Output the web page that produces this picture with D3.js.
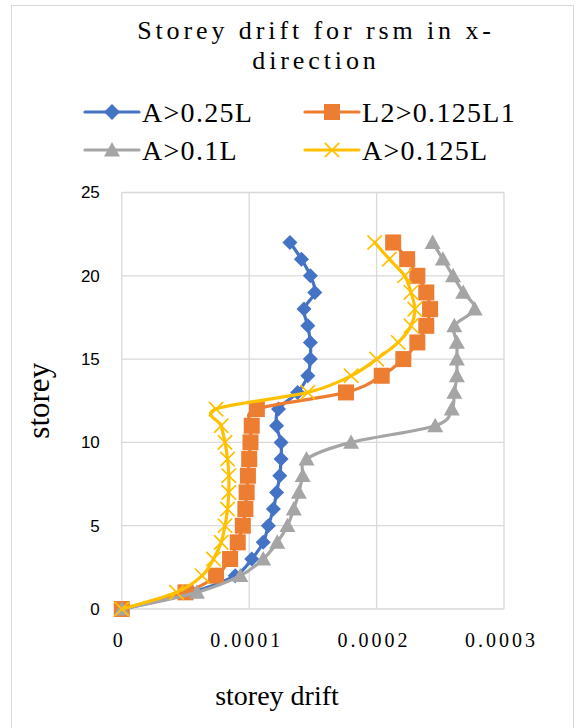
<!DOCTYPE html>
<html>
<head>
<meta charset="utf-8">
<script src="https://cdn.jsdelivr.net/npm/d3@7"></script>
<style>
  html, body { margin: 0; padding: 0; background: #fff; }
  svg { display: block; }
</style>
</head>
<body>
<svg id="chart" width="579" height="728"></svg>
<script>
// Storey numbers (y) and inter-storey drift per model (x)
const storeys = [0,1,2,3,4,5,6,7,8,9,10,11,12,13,14,15,16,17,18,19,20,21,22];

const driftA025L = [0, 0.000055, 0.000089, 0.000102, 0.000111, 0.000115, 0.000119, 0.0001215, 0.000124, 0.000125, 0.000125, 0.0001215,
  0.000123, 0.000138, 0.000146, 0.000148, 0.000148, 0.000146, 0.000143, 0.0001515, 0.000148, 0.000141, 0.000132];
const driftL2 = [0, 0.00005, 0.000074, 0.000085, 0.000091, 0.000095, 0.000097, 0.000098, 0.000099, 0.0001, 0.000101, 0.000102,
  0.000106, 0.000176, 0.000204, 0.000221, 0.000232, 0.000239, 0.000242, 0.000239, 0.000232, 0.000224, 0.000213];
const driftA01L = [0, 0.000059, 0.000093, 0.000111, 0.000122, 0.00013, 0.000135, 0.000139, 0.000142, 0.000145, 0.00018, 0.000246,
  0.000259, 0.000261, 0.000263, 0.000263, 0.000263, 0.000261, 0.000277, 0.000268, 0.00026, 0.000252, 0.000244];
const driftA0125L = [0, 0.000043, 0.000063, 0.000072, 0.000078, 0.000081, 0.000083, 0.000084, 0.000084, 0.000083, 0.000081, 0.000078,
  0.000074, 0.000146, 0.00018, 0.0002, 0.000217, 0.000227, 0.00023, 0.000227, 0.000222, 0.00021, 0.0001985];

const seriesNames = ["A>0.25L", "L2>0.125L1", "A>0.1L", "A>0.125L"];
const seriesColors = ["#4472C4", "#ED7D31", "#A5A5A5", "#FFC000"];
const seriesMarkers = ["diamond", "square", "triangle", "cross"];

const xTicks = [0, 0.0001, 0.0002, 0.0003];
const xTickLabels = ["0", "0.0001", "0.0002", "0.0003"];
const yTicks = [0, 5, 10, 15, 20, 25];

const titleLines = ["Storey drift for rsm in x-", "direction"];
const xTitle = "storey drift";
const yTitle = "storey";

const seriesValues = [driftA025L, driftL2, driftA01L, driftA0125L];
const series = seriesNames.map((name, i) => ({
  name, color: seriesColors[i], marker: seriesMarkers[i],
  points: storeys.map((s, j) => ({ x: seriesValues[i][j], y: s }))
}));

const svg = d3.select("#chart");
const serif = "'Liberation Serif', 'Times New Roman', serif";
const sans = "'Liberation Sans', Arial, sans-serif";

// Outer chart frame
svg.append("rect")
  .attr("x", 11.5).attr("y", 5.5).attr("width", 562).attr("height", 740)
  .attr("fill", "#fff").attr("stroke", "#d9d9d9").attr("stroke-width", 1);

// Title
const title = svg.append("text")
  .attr("text-anchor", "middle")
  .attr("font-family", serif).attr("font-size", 26).attr("letter-spacing", 3.9)
  .attr("fill", "#000");
titleLines.forEach((t, i) => {
  title.append("tspan").attr("x", 316).attr("y", 39 + i * 30).text(t);
});

// Scales
const x = d3.scaleLinear().domain([0, 0.0003]).range([121.8, 504]);
const y = d3.scaleLinear().domain([0, 25]).range([609, 192.5]);

// Gridlines
const grid = svg.append("g");
grid.selectAll("line.h").data(yTicks).join("line")
  .attr("x1", x(0)).attr("x2", x(0.0003))
  .attr("y1", d => y(d)).attr("y2", d => y(d))
  .attr("stroke", "#d9d9d9").attr("stroke-width", 1.3);
grid.selectAll("line.v").data(xTicks).join("line")
  .attr("y1", y(0)).attr("y2", y(25))
  .attr("x1", d => x(d)).attr("x2", d => x(d))
  .attr("stroke", "#d9d9d9").attr("stroke-width", 1.3);

// Axes (labels only; the frame lines are the gridlines)
const yAxis = svg.append("g")
  .attr("transform", `translate(${x(0)},0)`)
  .call(d3.axisLeft(y).tickValues(yTicks).tickSize(0).tickPadding(22));
yAxis.select(".domain").remove();
yAxis.selectAll("text").attr("font-family", sans).attr("font-size", 17).attr("fill", "#000");

const xAxis = svg.append("g")
  .attr("transform", `translate(0,${y(0)})`)
  .call(d3.axisBottom(x).tickValues(xTicks).tickFormat((d, i) => xTickLabels[i]).tickSize(0).tickPadding(24));
xAxis.select(".domain").remove();
xAxis.selectAll("text").attr("font-family", serif).attr("font-size", 20)
  .attr("letter-spacing", 3).attr("dx", -3).attr("fill", "#000");

// Axis titles
svg.append("text")
  .attr("x", 277).attr("y", 705)
  .attr("text-anchor", "middle")
  .attr("font-family", serif).attr("font-size", 28).attr("fill", "#000")
  .text(xTitle);
svg.append("text")
  .attr("transform", `translate(49,${(y(0) + y(25)) / 2}) rotate(-90)`)
  .attr("text-anchor", "middle")
  .attr("font-family", serif).attr("font-size", 31).attr("fill", "#000")
  .text(yTitle);

// Marker shapes
function drawMarker(g, type, color, size) {
  const h = size / 2;
  if (type === "diamond") {
    g.append("path").attr("d", `M0,${-h}L${h},0L0,${h}L${-h},0Z`).attr("fill", color);
  } else if (type === "square") {
    g.append("rect").attr("x", -h).attr("y", -h).attr("width", size).attr("height", size).attr("fill", color);
  } else if (type === "triangle") {
    g.append("path").attr("d", `M0,${-h}L${h},${h * 0.8}L${-h},${h * 0.8}Z`).attr("fill", color);
  } else if (type === "cross") {
    const c = h * 0.9;
    g.append("path").attr("d", `M${-c},${-c}L${c},${c}M${-c},${c}L${c},${-c}`)
      .attr("stroke", color).attr("stroke-width", 1.7).attr("fill", "none");
  }
}

const markerSize = { diamond: 15, square: 16, triangle: 16, cross: 16 };

// Series lines with markers
const line = d3.line().x(d => x(d.x)).y(d => y(d.y)).curve(d3.curveCardinal.tension(0));
series.forEach(s => {
  const g = svg.append("g");
  g.append("path").datum(s.points)
    .attr("d", line).attr("fill", "none")
    .attr("stroke", s.color).attr("stroke-width", 3.2)
    .attr("stroke-linejoin", "round").attr("stroke-linecap", "round");
  g.selectAll("g.m").data(s.points).join("g")
    .attr("transform", d => `translate(${x(d.x)},${y(d.y)})`)
    .each(function () { drawMarker(d3.select(this), s.marker, s.color, markerSize[s.marker]); });
});

// Legend
const legendPos = [[85, 112], [305, 112], [85, 150], [305, 150]];
series.forEach((s, i) => {
  const [lx, ly] = legendPos[i];
  const g = svg.append("g").attr("transform", `translate(${lx},${ly})`);
  g.append("line").attr("x1", 0).attr("x2", 54).attr("y1", 0).attr("y2", 0)
    .attr("stroke", s.color).attr("stroke-width", 3.2).attr("stroke-linecap", "round");
  const m = g.append("g").attr("transform", "translate(27,0)");
  drawMarker(m, s.marker, s.color, 16);
  g.append("text").attr("x", 57).attr("y", 10)
    .attr("font-family", serif).attr("font-size", 28).attr("letter-spacing", 1.3).attr("fill", "#000")
    .text(s.name);
});
</script>
</body>
</html>
